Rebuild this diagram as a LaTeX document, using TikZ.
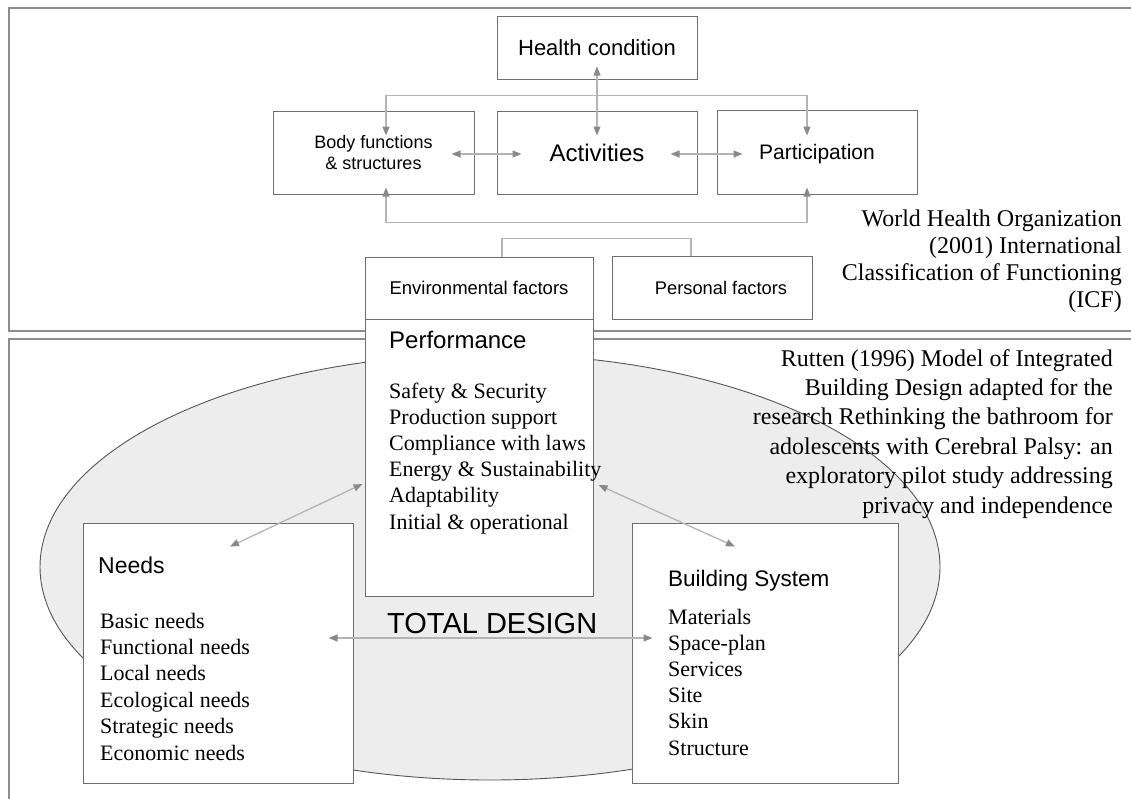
\documentclass[tikz,border=0pt]{standalone}
\usepackage{fontspec}
\setmainfont{Liberation Serif}
\setsansfont{Liberation Sans}
\usetikzlibrary{arrows.meta}

\definecolor{framegray}{HTML}{8C8C8C}
\definecolor{boxgray}{HTML}{6E6E6E}
\definecolor{linegray}{HTML}{B4B4B4}
\definecolor{tipgray}{HTML}{8A8A8A}
\definecolor{fillgray}{HTML}{EDEDED}
\definecolor{rimgray}{HTML}{555555}

\begin{document}
\begin{tikzpicture}[x=1pt, y=-1pt,
    box/.style={draw=boxgray, line width=1pt, fill=white, inner sep=0pt},
    icf/.style={box, align=center, text depth=0pt, font=\sffamily\fontsize{#1}{21}\selectfont},
    link/.style={draw=linegray, line width=1.3pt},
    >={Triangle[length=9pt,width=7pt,color=tipgray]},
    head/.style={anchor=base west, inner sep=0pt, font=\sffamily\fontsize{#1}{#1}\selectfont},
    entry/.style={anchor=base west, inner sep=0pt, font=\fontsize{22}{26}\selectfont},
    note/.style={anchor=base east, inner sep=0pt, font=\fontsize{24}{28}\selectfont}]

    \useasboundingbox (0,0) rectangle (1131,798);

    % Two outer frames
    \draw[framegray, line width=1.2pt] (9,8) rectangle (1140,331);
    \draw[framegray, line width=1.2pt] (9,339) rectangle (1140,810);

    % Total design ellipse
    \draw[draw=rimgray, fill=fillgray, line width=0.9pt] (490,567) ellipse [x radius=450, y radius=213];

    % ICF model (top half)
    \node[icf=22, minimum width=200, minimum height=63] (health) at (597,47.5) {Health condition};
    \node[icf=18, minimum width=201, minimum height=83] (body) at (373.5,152.5) {Body functions\\ \& structures};
    \node[icf=24, minimum width=200, minimum height=83] (act) at (597,152.5) {Activities};
    \node[icf=21, minimum width=200, minimum height=84] (part) at (817,152) {Participation};
    \node[icf=18.5, minimum width=228, minimum height=62] (env) at (479,288) {Environmental factors};
    \node[icf=18.3, minimum width=200, minimum height=63] (pers) at (712,287.5) {\hspace*{18pt}Personal factors};

    % Rutten model (bottom half)
    \node[box, minimum width=228, minimum height=277] (perf) at (479,457.5) {};
    \node[box, minimum width=270, minimum height=260] (needs) at (218,653) {};
    \node[box, minimum width=266, minimum height=260] (build) at (765,653) {};

    \node[head=24] (perfhead) at (389,348) {Performance};
    \foreach \txt [count=\i] in {Safety \& Security, Production support, Compliance with laws,
        Energy \& Sustainability, Adaptability, Initial \& operational}
        \node[entry] (perf\i) at (389,{398+26.2*(\i-1)}) {\txt};

    \node[head=23] (needshead) at (98,573) {Needs};
    \foreach \txt [count=\i] in {Basic needs, Functional needs, Local needs,
        Ecological needs, Strategic needs, Economic needs}
        \node[entry] (need\i) at (100,{628+26.4*(\i-1)}) {\txt};

    \node[head=22.5] (buildhead) at (668,586) {Building System};
    \foreach \txt [count=\i] in {Materials, Space-plan, Services, Site, Skin, Structure}
        \node[entry] (part\i) at (668,{624+26.2*(\i-1)}) {\txt};

    \node[head=29] (total) at (387,633) {TOTAL DESIGN};

    % Sources
    \foreach \txt [count=\i] in {{World Health Organization}, {(2001) International},
        {Classification of Functioning}, {(ICF)}}
        \node[note] (who\i) at (1122,{226+27.3*(\i-1)}) {\txt};
    \foreach \txt [count=\i] in {{Rutten (1996) Model of Integrated}, {Building Design adapted for the},
        {research Rethinking the bathroom for}, {adolescents with Cerebral Palsy: an},
        {exploratory pilot study addressing}, {privacy and independence}}
        \node[note] (rutten\i) at (1113,{366+29.4*(\i-1)}) {\txt};

    % ICF connectors
    \draw[link,<->] ([shift={(0,-13)}]health.south) -- ([shift={(0,25)}]act.north);
    \draw[link,<->] ([shift={(-23,1.5)}]body.east) -- ([shift={(25,1.5)}]act.west);
    \draw[link,<->] ([shift={(-27,1.5)}]act.east) -- ([shift={(26,2)}]part.west);
    \draw[link,<->] ([shift={(12.5,25)}]body.north) -- ++(0,-40) -| ([shift={(-10,26)}]part.north);
    \draw[link,<->] ([shift={(12.5,-7)}]body.south) -- ++(0,35) -| ([shift={(-10,-7)}]part.south);
    \draw[link] ([xshift=23]env.north) -- ++(0,-18) -| ([xshift=-21]pers.north);

    % Design connectors
    \draw[link,<->] ([shift={(-25,-15)}]needs.east) -- ([shift={(21,-15)}]build.west);
    \draw[link,<->] ([shift={(12,24)}]needs.north) -- ([shift={(-2,26.5)}]perf.west);
    \draw[link,<->] ([shift={(5,27.5)}]perf.east) -- ([shift={(-30,24)}]build.north);

\end{tikzpicture}
\end{document}
